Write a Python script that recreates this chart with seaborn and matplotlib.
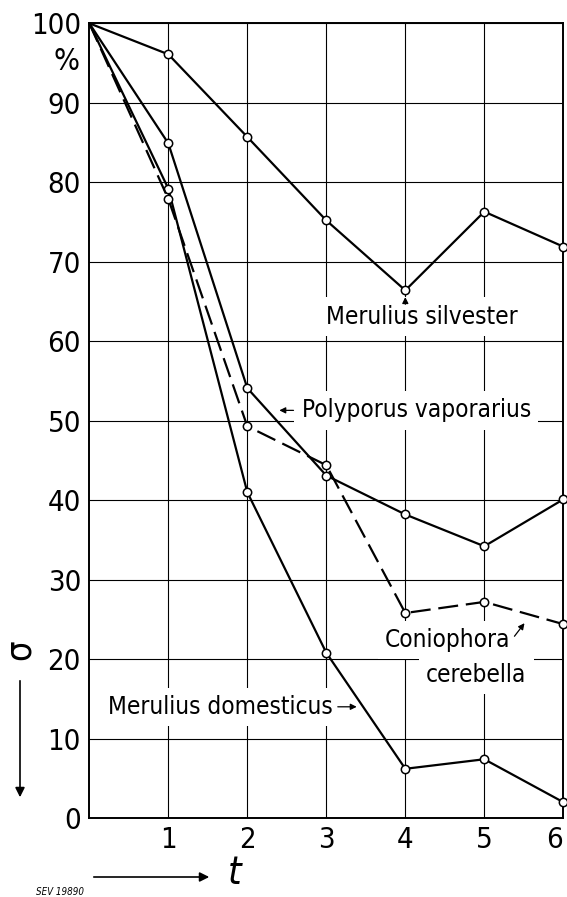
import numpy as np
import pandas as pd
import seaborn as sns
import matplotlib.pyplot as plt

# values (relative strength sigma in % vs time t)
t = [0, 1, 2, 3, 4, 5, 6]
silvester = [100, 96.1, 85.7, 75.2, 66.4, 76.3, 71.9]
domesticus = [100, 79.2, 41.0, 20.8, 6.2, 7.4, 2.0]
vaporarius = [100, 84.9, 54.1, 43.1, 38.2, 34.2, 40.1]
cerebella = [100, 77.9, 49.3, 44.4, 25.8, 27.2, 24.4]

x_ticks = [1, 2, 3, 4, 5, 6]
y_ticks = list(range(0, 101, 10))

sns.set_style("white")
plt.rcParams['font.family'] = ['DejaVu Sans']
plt.rcParams['font.stretch'] = 'condensed'
plt.rcParams['text.color'] = 'k'
plt.rcParams['xtick.color'] = 'k'
plt.rcParams['ytick.color'] = 'k'

fig = plt.figure(figsize=(5.67, 8.97), dpi=100)
ax = fig.add_axes([0.1575, 0.088, 0.836, 0.886])

series = [
    (silvester, '-'),
    (domesticus, '-'),
    (vaporarius, '-'),
    (cerebella, (0, (9, 3.5))),
]
for vals, ls in series:
    sns.lineplot(x=t, y=vals, ax=ax, color='k', lw=1.6, linestyle=ls,
                 marker='o', markersize=6, mfc='white', mec='k', mew=1.1,
                 markevery=list(range(1, 7)), clip_on=False, zorder=4)

ax.set_xlim(0, 6)
ax.set_ylim(0, 100)
ax.set_xticks(x_ticks)
ax.set_yticks(y_ticks)
ax.set_xticklabels([str(v) for v in x_ticks], fontsize=21, fontstretch='condensed')
ax.set_yticklabels([str(v) for v in y_ticks], fontsize=21, fontstretch='condensed')
ax.get_xticklabels()[-1].set_ha('right')
ax.tick_params(length=0, pad=6)
ax.grid(True, color='k', lw=0.8)
ax.set_axisbelow(True)
for s in ax.spines.values():
    s.set_color('k')
    s.set_linewidth(1.4)
ax.set_xlabel('')
ax.set_ylabel('')

ax.text(-0.12, 95.2, '%', ha='right', va='center', fontsize=22, clip_on=False)

box = dict(boxstyle='square,pad=0.3', fc='white', ec='none')
arr = dict(arrowstyle='-|>', color='k', lw=0.9, mutation_scale=9)
fs = 17.5

ax.text(4.21, 63.1, 'Merulius silvester', ha='center', va='center', fontsize=fs, bbox=box, zorder=3)
ax.annotate('', xy=(4, 65.9), xytext=(4, 64.3), arrowprops=arr, zorder=5)

ax.text(4.14, 51.3, 'Polyporus vaporarius', ha='center', va='center', fontsize=fs, bbox=box, zorder=3)
ax.annotate('', xy=(2.37, 51.3), xytext=(2.62, 51.3), arrowprops=arr, zorder=5)

ax.text(4.54, 22.4, 'Coniophora', ha='center', va='center', fontsize=fs, bbox=box, zorder=3)
ax.text(4.90, 18.0, 'cerebella', ha='center', va='center', fontsize=fs, bbox=box, zorder=3)
ax.annotate('', xy=(5.53, 24.8), xytext=(5.36, 22.6), arrowprops=arr, zorder=5)

ax.text(1.66, 14.0, 'Merulius domesticus', ha='center', va='center', fontsize=fs, bbox=box, zorder=3)
ax.annotate('', xy=(3.42, 14.0), xytext=(3.11, 14.0), arrowprops=arr, zorder=5)

# axis symbols drawn outside the axes
fig.text(20 / 567, 1 - 650 / 897, 'σ', rotation=90, ha='center', va='center', fontsize=26)
ax.annotate('', xy=(20, 897 - 800), xytext=(20, 897 - 678), xycoords='figure pixels',
            textcoords='figure pixels', arrowprops=dict(arrowstyle='-|>', color='k', lw=1.2, mutation_scale=14))
ax.annotate('', xy=(212, 20), xytext=(91, 20), xycoords='figure pixels',
            textcoords='figure pixels', arrowprops=dict(arrowstyle='-|>', color='k', lw=1.2, mutation_scale=14))
fig.text(235 / 567, 24 / 897, 't', style='italic', ha='center', va='center', fontsize=28)
fig.text(60 / 567, 5 / 897, 'SEV 19890', style='italic', ha='center', va='center', fontsize=7)

fig.savefig('out.png', dpi=100)
